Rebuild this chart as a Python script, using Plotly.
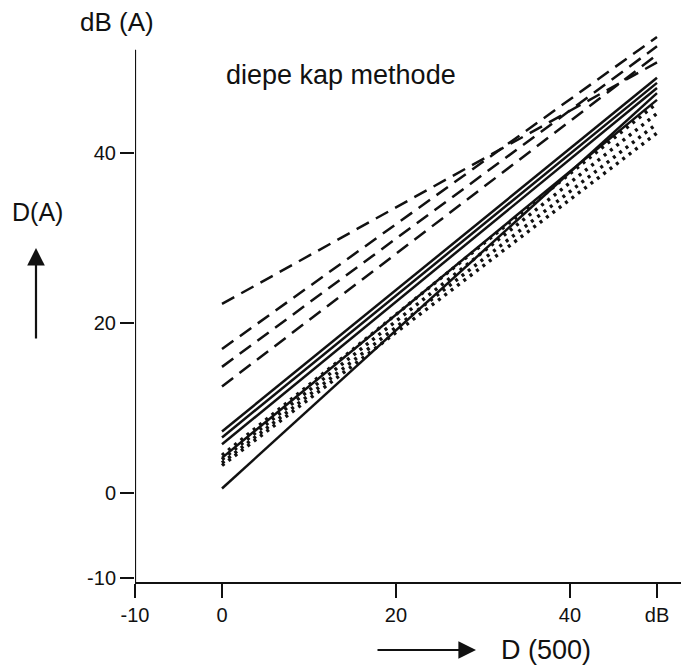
import plotly.graph_objects as go

# x positions where every line starts / ends (D(500) in dB)
x_span = [0, 50]

# dashed lines: D(A) at x=0 and at x=50
dashed_start = [22.2, 16.9, 14.8, 12.5]
dashed_end = [50.6, 53.6, 52.5, 51.5]

# solid lines
solid_start = [7.2, 6.5, 5.7, 4.1, 0.5]
solid_end = [48.8, 48.2, 47.6, 46.2, 47.0]

# dotted lines
dotted_start = [4.4, 3.9, 3.5, 3.2]
dotted_end = [45.8, 44.6, 43.4, 42.3]

x_tick_vals = [-10, 0, 20, 40, 50]
x_tick_text = ["-10", "0", "20", "40", "dB"]
y_tick_vals = [-10, 0, 20, 40]
y_tick_text = ["-10", "0", "20", "40"]
y_axis_top = 52.1

FONT = "Liberation Sans, Arial, Helvetica, sans-serif"
INK = "#111111"

fig = go.Figure()

def add_group(starts, ends, dash, width):
    for s, e in zip(starts, ends):
        fig.add_trace(go.Scatter(
            x=x_span, y=[s, e], mode="lines",
            line=dict(color=INK, width=width, dash=dash),
            showlegend=False, hoverinfo="skip"))

add_group(dashed_start, dashed_end, "14px,8px", 2.5)
add_group(solid_start, solid_end, "solid", 2.5)
add_group(dotted_start, dotted_end, "3px,5px", 3.4)

# plot area geometry (pixels) for placing outside texts
W, H = 681, 665
L, R, T, B = 135, 0, 31, 83
pw, ph = W - L - R, H - T - B
y_min, y_max = -10.5, 54.3

def px(xp):
    return (xp - L) / pw

def py(yp):
    return (H - B - yp) / ph

annots = [
    (117, 22, "dB (A)", 26),
    (341, 75, "diepe kap methode", 27),
    (37, 212, "D(A)", 25),
    (546, 650, "D (500)", 27),
]
for xp, yp, txt, sz in annots:
    fig.add_annotation(xref="paper", yref="paper", showarrow=False,
                       xanchor="center", yanchor="middle",
                       font=dict(family=FONT, color=INK, size=sz),
                       x=px(xp), y=py(yp), text=txt)

# arrows
fig.add_annotation(xref="paper", yref="paper", x=px(36), y=py(248), text="",
                   showarrow=True, ax=0, ay=92, arrowhead=2, arrowsize=1.6,
                   arrowwidth=2.2, arrowcolor=INK)
fig.add_annotation(xref="paper", yref="paper", x=px(476), y=py(650), text="",
                   showarrow=True, ax=-100, ay=0, arrowhead=2, arrowsize=1.6,
                   arrowwidth=2.2, arrowcolor=INK)

# vertical axis line (stops below the top of the plotting area)
fig.add_shape(type="line", xref="x", yref="y", x0=-10, x1=-10,
              y0=y_min, y1=y_axis_top, line=dict(color=INK, width=2.2))

fig.update_xaxes(range=[-10, 52.76], tickvals=x_tick_vals, ticktext=x_tick_text,
                 showline=True, linecolor=INK, linewidth=2.2,
                 ticks="outside", ticklen=14, tickwidth=2.2, tickcolor=INK,
                 showgrid=False, zeroline=False,
                 tickfont=dict(family=FONT, size=20, color=INK))
fig.update_yaxes(range=[y_min, y_max], tickvals=y_tick_vals, ticktext=y_tick_text,
                 showline=False,
                 ticks="outside", ticklen=14, tickwidth=2.2, tickcolor=INK,
                 showgrid=False, zeroline=False,
                 tickfont=dict(family=FONT, size=20, color=INK))

fig.update_layout(width=W, height=H, margin=dict(l=L, r=R, t=T, b=B, pad=0),
                  plot_bgcolor="white", paper_bgcolor="white",
                  font=dict(family=FONT, color=INK))

fig.write_html("out.html", config={"displayModeBar": False},
               post_script="document.body.style.margin='0';document.body.style.overflow='hidden';")
